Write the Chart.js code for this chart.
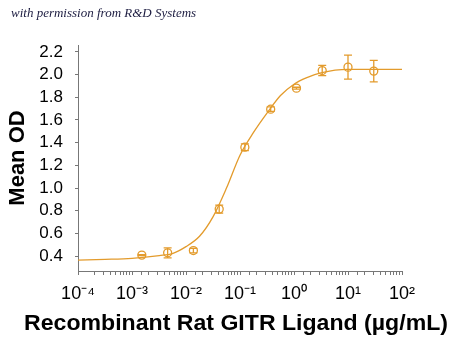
<!DOCTYPE html>
<html>
<head>
<meta charset="utf-8">
<script src="https://cdn.jsdelivr.net/npm/chart.js@4"></script>
<style>
  html, body { margin: 0; padding: 0; background: #fff; }
  #wrap { position: relative; width: 450px; height: 343px; }
  #note {
    position: absolute; left: 11px; top: 5px;
    font-family: "Liberation Serif", serif; font-style: italic; font-size: 13px;
    color: #1c1c40; white-space: nowrap;
  }
</style>
</head>
<body>
<div id="wrap">
  <canvas id="myChart" width="450" height="343"></canvas>
  <div id="note">with permission from R&amp;D Systems</div>
</div>
<script>
// measured points (3-fold dilutions)
const doses = [0.00152, 0.00457, 0.0137, 0.0412, 0.123, 0.370, 1.11, 3.33, 10, 30];
const meanOD = [0.41, 0.43, 0.45, 0.815, 1.36, 1.695, 1.88, 2.035, 2.065, 2.03];
const odError = [0.005, 0.044, 0.02, 0.035, 0.03, 0.02, 0.008, 0.045, 0.105, 0.095];

// fitted curve
const fitDoses = [0.0001, 0.00032, 0.001, 0.0032, 0.0056, 0.01, 0.0178, 0.0316, 0.0562, 0.1, 0.178, 0.316, 0.562, 1, 1.78, 3.16, 10, 31.6, 100];
const fitOD = [0.365, 0.372, 0.382, 0.406, 0.424, 0.485, 0.576, 0.747, 1.0, 1.29, 1.49, 1.66, 1.815, 1.915, 1.975, 2.015, 2.045, 2.045, 2.045];

const yTicks = [0.4, 0.6, 0.8, 1.0, 1.2, 1.4, 1.6, 1.8, 2.0, 2.2];
const xTitle = 'Recombinant Rat GITR Ligand (\u00B5g/mL)';

const ORANGE = '#E39B2C';
const FONT = "'Liberation Sans', Arial, sans-serif";

const sup = {'-': '\u207B', '0': '\u2070', '1': '\u00B9', '2': '\u00B2', '3': '\u00B3', '4': '\u2074'};
function powLabel(e) {
  return '10' + String(e).split('').map(c => sup[c]).join('');
}

const errorBars = {
  id: 'errorBars',
  afterDatasetsDraw(chart) {
    const ctx = chart.ctx;
    const xs = chart.scales.x, ys = chart.scales.y;
    ctx.save();
    ctx.strokeStyle = ORANGE;
    ctx.lineWidth = 1.3;
    for (let i = 0; i < doses.length; i++) {
      const px = xs.getPixelForValue(doses[i]);
      const top = ys.getPixelForValue(meanOD[i] + odError[i]);
      const bot = ys.getPixelForValue(meanOD[i] - odError[i]);
      ctx.beginPath();
      ctx.moveTo(px, top); ctx.lineTo(px, bot);
      ctx.moveTo(px - 4, top); ctx.lineTo(px + 4, top);
      ctx.moveTo(px - 4, bot); ctx.lineTo(px + 4, bot);
      ctx.stroke();
    }
    ctx.restore();
  }
};

// the scale title gets squeezed to the axis width, so the x title is drawn here
const bottomTitle = {
  id: 'bottomTitle',
  afterDraw(chart) {
    const ctx = chart.ctx;
    ctx.save();
    ctx.font = 'bold 22px ' + FONT;
    ctx.fillStyle = '#000';
    ctx.textAlign = 'center';
    ctx.textBaseline = 'alphabetic';
    ctx.translate(236, 330);
    ctx.scale(1.05, 1);
    ctx.fillText(xTitle, 0, 0);
    ctx.restore();
  }
};

const ctx = document.getElementById('myChart').getContext('2d');
const myChart = new Chart(ctx, {
  type: 'scatter',
  data: {
    datasets: [
      {
        label: 'fit',
        data: fitDoses.map((d, i) => ({x: d, y: fitOD[i]})),
        showLine: true,
        borderColor: ORANGE,
        borderWidth: 1.3,
        pointRadius: 0,
        cubicInterpolationMode: 'monotone'
      },
      {
        label: 'Mean OD',
        data: doses.map((d, i) => ({x: d, y: meanOD[i]})),
        showLine: false,
        borderColor: ORANGE,
        backgroundColor: 'rgba(0,0,0,0)',
        borderWidth: 1.3,
        pointRadius: 4,
        pointHoverRadius: 4
      }
    ]
  },
  options: {
    responsive: false,
    animation: false,
    layout: { padding: { top: 45, right: 48, left: 0, bottom: 0 } },
    plugins: { legend: { display: false }, tooltip: { enabled: false } },
    scales: {
      x: {
        type: 'logarithmic',
        min: 0.0001,
        max: 100,
        afterFit(scale) { scale.height = 72; },
        grid: { drawOnChartArea: false, tickLength: 4, tickColor: '#777' },
        border: { color: '#777', width: 1 },
        ticks: {
          autoSkip: false,
          maxRotation: 0,
          padding: 8,
          color: '#000',
          font: { family: FONT, size: 18 },
          callback(v) {
            const e = Math.log10(v);
            return Math.abs(e - Math.round(e)) < 1e-9 ? powLabel(Math.round(e)) : '';
          }
        },
        title: { display: false }
      },
      y: {
        min: 0.27,
        max: 2.26,
        afterFit(scale) { scale.width = 78; },
        afterBuildTicks(scale) { scale.ticks = yTicks.map(v => ({value: v})); },
        grid: { drawOnChartArea: false, tickLength: 3, tickColor: '#777' },
        border: { color: '#777', width: 1 },
        ticks: {
          padding: 12,
          color: '#000',
          font: { family: FONT, size: 17 },
          callback(v) { return v.toFixed(1); }
        },
        title: {
          display: true,
          text: 'Mean OD',
          color: '#000',
          font: { family: FONT, size: 22, weight: 'bold' },
          padding: { top: 5, bottom: 0 }
        }
      }
    }
  },
  plugins: [errorBars, bottomTitle]
});
</script>
</body>
</html>
